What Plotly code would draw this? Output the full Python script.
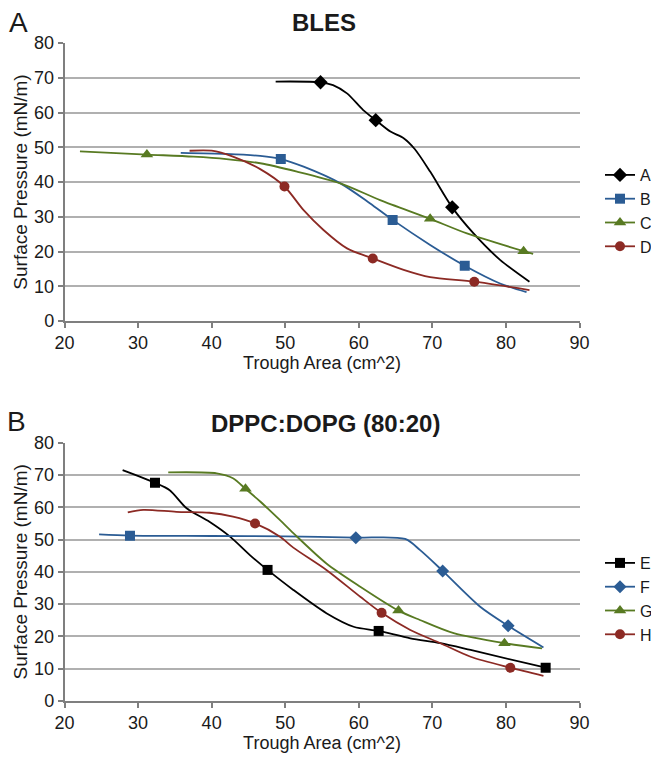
import plotly.graph_objects as go

# ---------------- Data ----------------
# Panel A: BLES
A_x = [48.7, 54.8, 56.5, 58.4, 60.6, 62.3, 64.3, 66.1, 67.6, 69.7, 72.7, 75.6, 79.2, 83.2]
A_y = [68.9, 68.7, 67.9, 65.5, 60.7, 57.8, 54.5, 52.6, 49.5, 43.0, 32.7, 25.2, 17.6, 11.3]
A_mx = [54.8, 62.3, 72.7]
A_my = [68.7, 57.8, 32.7]

B_x = [35.8, 42.0, 46.6, 49.4, 52.5, 57.5, 61.5, 64.6, 69.7, 74.4, 79.2, 82.8]
B_y = [48.4, 48.1, 47.5, 46.6, 44.4, 39.6, 33.9, 29.1, 21.9, 15.9, 10.8, 8.3]
B_mx = [49.4, 64.6, 74.4]
B_my = [46.6, 29.1, 15.9]

C_x = [22.1, 31.2, 37.5, 42.0, 46.6, 51.6, 57.5, 62.9, 69.7, 74.7, 82.4, 83.7]
C_y = [48.8, 47.9, 47.3, 46.6, 45.4, 43.0, 39.6, 34.8, 29.4, 25.2, 20.1, 19.3]
C_mx = [31.2, 69.7, 82.4]
C_my = [47.9, 29.4, 20.1]

D_x = [37.0, 40.0, 42.9, 46.6, 49.9, 52.5, 55.2, 58.4, 61.9, 66.1, 69.7, 75.7, 83.2]
D_y = [49.0, 49.0, 47.3, 43.7, 38.7, 31.9, 26.2, 20.9, 18.0, 14.7, 12.6, 11.3, 8.9]
D_mx = [49.9, 61.9, 75.7]
D_my = [38.7, 18.0, 11.3]

# Panel B: DPPC:DOPG (80:20)
E_x = [27.9, 32.3, 34.3, 36.6, 39.7, 42.5, 45.2, 47.6, 51.1, 55.6, 59.3, 62.7, 67.0, 71.1, 75.2, 85.4]
E_y = [71.5, 67.6, 65.3, 59.7, 55.5, 50.9, 45.2, 40.6, 34.4, 27.2, 23.0, 21.7, 19.4, 17.9, 15.8, 10.3]
E_mx = [32.3, 47.6, 62.7, 85.4]
E_my = [67.6, 40.6, 21.7, 10.3]

F_x = [24.7, 28.9, 40.0, 50.0, 59.6, 66.3, 68.3, 71.4, 76.5, 80.3, 85.1]
F_y = [51.6, 51.2, 51.1, 51.0, 50.6, 50.2, 46.8, 40.3, 29.2, 23.3, 16.6]
F_mx = [28.9, 59.6, 71.4, 80.3]
F_my = [51.2, 50.6, 40.3, 23.3]
F_msym = ["square", "diamond", "diamond", "diamond"]

G_x = [34.1, 40.7, 42.9, 44.6, 46.6, 49.3, 51.1, 55.6, 60.2, 65.4, 68.3, 72.9, 79.8, 84.9]
G_y = [70.8, 70.5, 69.0, 65.7, 61.8, 56.0, 52.0, 42.6, 35.4, 28.0, 25.1, 21.0, 17.9, 16.3]
G_mx = [44.6, 65.4, 79.8]
G_my = [65.7, 28.0, 17.9]

H_x = [28.6, 30.7, 35.2, 39.7, 42.9, 45.9, 49.3, 51.1, 55.6, 60.2, 63.1, 67.0, 71.1, 75.2, 80.6, 85.1]
H_y = [58.4, 59.2, 58.6, 58.3, 57.1, 55.0, 50.9, 47.5, 40.6, 32.3, 27.3, 22.0, 17.9, 13.7, 10.3, 7.8]
H_mx = [45.9, 63.1, 80.6]
H_my = [55.0, 27.3, 10.3]

x_ticks = [20, 30, 40, 50, 60, 70, 80, 90]
y_ticks = [0, 10, 20, 30, 40, 50, 60, 70, 80]

BLACK = "#000000"
BLUE = "#2B5C94"
GREEN = "#587A22"
RED = "#8C2A24"

FONT = "Liberation Sans, Arial, sans-serif"
TXT = "#1a1a1a"

fig = go.Figure()


def add_series(name, xs, ys, mx, my, color, symbol, msize, xa, ya, legend):
    fig.add_trace(go.Scatter(x=xs, y=ys, mode="lines", line=dict(color=color, width=1.8, shape="spline", smoothing=0.8),
                             showlegend=False, hoverinfo="skip", xaxis=xa, yaxis=ya))
    fig.add_trace(go.Scatter(x=mx, y=my, mode="markers",
                             marker=dict(color=color, symbol=symbol, size=msize, line=dict(width=0)),
                             showlegend=False, xaxis=xa, yaxis=ya))
    lsym = symbol if isinstance(symbol, str) else symbol[-1]
    fig.add_trace(go.Scatter(x=[None], y=[None], mode="lines+markers", name=name,
                             line=dict(color=color, width=1.8),
                             marker=dict(color=color, symbol=lsym, size=msize),
                             xaxis=xa, yaxis=ya, legend=legend))


add_series("A", A_x, A_y, A_mx, A_my, BLACK, "diamond", 11, "x", "y", "legend")
add_series("B", B_x, B_y, B_mx, B_my, BLUE, "square", 10, "x", "y", "legend")
add_series("C", C_x, C_y, C_mx, C_my, GREEN, "triangle-up", 11, "x", "y", "legend")
add_series("D", D_x, D_y, D_mx, D_my, RED, "circle", 10, "x", "y", "legend")

add_series("E", E_x, E_y, E_mx, E_my, BLACK, "square", 10, "x2", "y2", "legend2")
add_series("F", F_x, F_y, F_mx, F_my, BLUE, F_msym, 10, "x2", "y2", "legend2")
add_series("G", G_x, G_y, G_mx, G_my, GREEN, "triangle-up", 11, "x2", "y2", "legend2")
add_series("H", H_x, H_y, H_mx, H_my, RED, "circle", 10, "x2", "y2", "legend2")

W, H = 651, 757
LEG_X = 600          # left edge of the legends (px)
PW = LEG_X           # plotting area width once the container legend reserves the right margin


def dx(p):
    return p / PW


def px_y(p):
    return 1 - p / H


xaxis_common = dict(range=[20, 90], tickvals=x_ticks, showgrid=False, zeroline=False,
                    showline=True, linecolor="#7f7f7f", linewidth=1.5,
                    ticks="outside", ticklen=5, tickcolor="#7f7f7f", tickwidth=1.5,
                    tickfont=dict(family=FONT, size=18, color=TXT),
                    title=dict(text="Trough Area (cm^2)", font=dict(family=FONT, size=18, color=TXT), standoff=4),
                    automargin=False, fixedrange=True,
                    domain=[dx(64.5), dx(579.5)])
yaxis_common = dict(range=[0, 80], tickvals=y_ticks, showgrid=True, gridcolor="#b0b0b0", gridwidth=1.5,
                    zeroline=False, showline=True, linecolor="#7f7f7f", linewidth=1.5,
                    ticks="outside", ticklen=5, tickcolor="#7f7f7f", tickwidth=1.5,
                    tickfont=dict(family=FONT, size=18, color=TXT),
                    title=dict(text="Surface Pressure (mN/m)", font=dict(family=FONT, size=19, color=TXT), standoff=1),
                    automargin=False, fixedrange=True)

legend_common = dict(x=LEG_X / W, xref="container", yref="container", xanchor="left", yanchor="top",
                     font=dict(family=FONT, size=16, color=TXT), bgcolor="rgba(0,0,0,0)",
                     itemwidth=30, tracegroupgap=0)

fig.update_layout(
    width=W, height=H,
    margin=dict(l=0, r=0, t=0, b=0),
    paper_bgcolor="white", plot_bgcolor="white",
    xaxis=dict(**xaxis_common, anchor="y"),
    yaxis=dict(**yaxis_common, domain=[px_y(321), px_y(43)], anchor="x"),
    xaxis2=dict(**xaxis_common, anchor="y2"),
    yaxis2=dict(**yaxis_common, domain=[px_y(701), px_y(442.7)], anchor="x2"),
    legend=dict(**legend_common, y=px_y(158)),
    legend2=dict(**legend_common, y=px_y(546)),
    annotations=[
        dict(text="<b>BLES</b>", x=dx(324), y=px_y(23), xref="paper", yref="paper",
             showarrow=False, font=dict(family=FONT, size=24, color=TXT), xanchor="center", yanchor="middle"),
        dict(text="<b>DPPC:DOPG (80:20)</b>", x=dx(325), y=px_y(423), xref="paper", yref="paper",
             showarrow=False, font=dict(family=FONT, size=24, color=TXT), xanchor="center", yanchor="middle"),
        dict(text="A", x=dx(7), y=px_y(22), xref="paper", yref="paper",
             showarrow=False, font=dict(family=FONT, size=28, color=TXT), xanchor="left", yanchor="middle"),
        dict(text="B", x=dx(5), y=px_y(421), xref="paper", yref="paper",
             showarrow=False, font=dict(family=FONT, size=28, color=TXT), xanchor="left", yanchor="middle"),
    ],
)

fig.write_html("out.html", config={"displayModeBar": False},
               post_script="document.body.style.margin='0';document.body.style.overflow='hidden';")
